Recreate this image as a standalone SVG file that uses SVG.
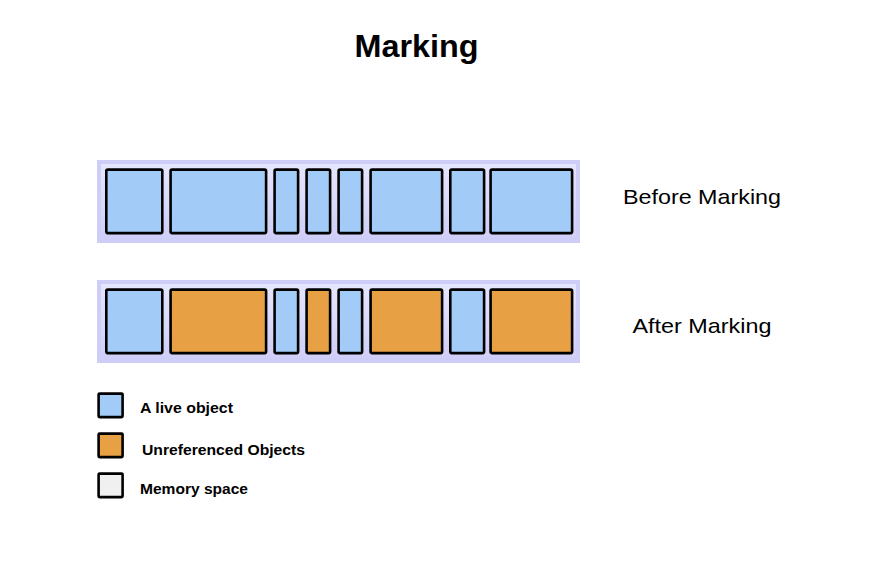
<svg xmlns="http://www.w3.org/2000/svg" width="872" height="580" viewBox="0 0 872 580">
<defs>
<linearGradient id="bg" x1="0" y1="0" x2="0" y2="1">
<stop offset="0" stop-color="#e6e6ff"/>
<stop offset="1" stop-color="#cdcdf7"/>
</linearGradient>
</defs>
<style>
.frame{fill:url(#bg);stroke:#cdcdf7;stroke-width:4}
.live{fill:#a3cbf7;stroke:#000;stroke-width:2.6}
.dead{fill:#e8a044;stroke:#000;stroke-width:2.6}
.mem{fill:#f0f0f0;stroke:#000;stroke-width:2.6}
.lg{font-family:"Liberation Sans",Arial,sans-serif;font-size:14.5px;font-weight:bold;fill:#000}
.lbl{font-family:"Liberation Sans",Arial,sans-serif;font-size:21px;fill:#000}
</style>
<rect width="872" height="580" fill="#fff"/>
<text x="416.5" y="57" text-anchor="middle" font-family="'Liberation Sans',Arial,sans-serif" font-size="32" font-weight="bold" textLength="124" lengthAdjust="spacingAndGlyphs">Marking</text>

<g id="before">
<rect class="frame" x="99" y="162" width="479" height="79"/>
<rect class="live" x="106.3" y="169.6" width="56" height="63.5" rx="1.5"/>
<rect class="live" x="170.6" y="169.6" width="95.5" height="63.5" rx="1.5"/>
<rect class="live" x="274.6" y="169.6" width="23.5" height="63.5" rx="1.5"/>
<rect class="live" x="306.6" y="169.6" width="23.5" height="63.5" rx="1.5"/>
<rect class="live" x="338.6" y="169.6" width="23.5" height="63.5" rx="1.5"/>
<rect class="live" x="370.6" y="169.6" width="71.5" height="63.5" rx="1.5"/>
<rect class="live" x="450.3" y="169.6" width="33.8" height="63.5" rx="1.5"/>
<rect class="live" x="490.6" y="169.6" width="81.5" height="63.5" rx="1.5"/>
</g>
<text class="lbl" x="702" y="204" text-anchor="middle" textLength="158" lengthAdjust="spacingAndGlyphs">Before Marking</text>

<g id="after">
<rect class="frame" x="99" y="282" width="479" height="79"/>
<rect class="live" x="106.3" y="289.6" width="56" height="63.5" rx="1.5"/>
<rect class="dead" x="170.6" y="289.6" width="95.5" height="63.5" rx="1.5"/>
<rect class="live" x="274.6" y="289.6" width="23.5" height="63.5" rx="1.5"/>
<rect class="dead" x="306.6" y="289.6" width="23.5" height="63.5" rx="1.5"/>
<rect class="live" x="338.6" y="289.6" width="23.5" height="63.5" rx="1.5"/>
<rect class="dead" x="370.6" y="289.6" width="71.5" height="63.5" rx="1.5"/>
<rect class="live" x="450.3" y="289.6" width="33.8" height="63.5" rx="1.5"/>
<rect class="dead" x="490.6" y="289.6" width="81.5" height="63.5" rx="1.5"/>
</g>
<text class="lbl" x="702" y="333" text-anchor="middle" textLength="139" lengthAdjust="spacingAndGlyphs">After Marking</text>

<g id="legend">
<rect class="live" x="98.6" y="393.6" width="24" height="23.5" rx="1"/>
<text class="lg" x="140" y="413" textLength="93" lengthAdjust="spacingAndGlyphs">A live  object</text>
<rect class="dead" x="98.6" y="433.6" width="24" height="23.5" rx="1"/>
<text class="lg" x="142" y="455" textLength="163" lengthAdjust="spacingAndGlyphs">Unreferenced Objects</text>
<rect class="mem" x="98.6" y="473.6" width="24" height="23.5" rx="1"/>
<text class="lg" x="140" y="494" textLength="108" lengthAdjust="spacingAndGlyphs">Memory space</text>
</g>
</svg>
